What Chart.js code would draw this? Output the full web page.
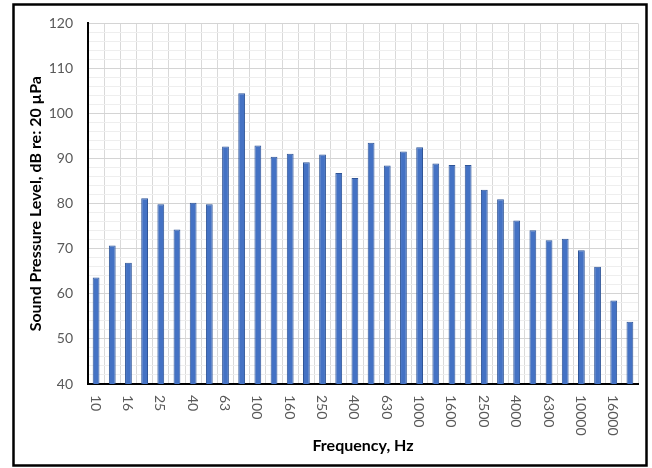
<!DOCTYPE html>
<html>
<head>
<meta charset="utf-8">
<script src="https://cdn.jsdelivr.net/npm/chart.js@4"></script>
<style>
  html, body { margin: 0; padding: 0; background: #fff; }
  #wrap { width: 652px; height: 468px; }
</style>
</head>
<body>
<div id="wrap"><canvas id="splChart" width="652" height="468"></canvas></div>
<script>
// 1/3 octave band centre frequencies, Hz
const frequencies = ['10', '12.5', '16', '20', '25', '31.5', '40', '50', '63', '80',
    '100', '125', '160', '200', '250', '315', '400', '500', '630', '800',
    '1000', '1250', '1600', '2000', '2500', '3150', '4000', '5000', '6300', '8000',
    '10000', '12500', '16000', '20000'];

// sound pressure level per band, dB re 20 µPa
const soundLevels = [63.6, 70.7, 66.9, 81.2, 79.9, 74.3, 80.2, 79.9, 92.7, 104.5,
    92.9, 90.4, 91.1, 89.2, 90.9, 86.8, 85.7, 93.5, 88.5, 91.6,
    92.5, 88.9, 88.6, 88.6, 83.1, 81.0, 76.3, 74.1, 71.9, 72.2,
    69.7, 66.0, 58.5, 53.8];

const yMin = 40;
const yMax = 120;

const labelFont = '14px Lato';
const labelColor = '#595959';

// x labels read top-to-bottom, so they are drawn here (every other band)
const frameAndLabels = {
    id: 'frameAndLabels',
    afterDraw(chart) {
        const ctx = chart.ctx;
        const xScale = chart.scales.x;
        ctx.save();
        ctx.font = labelFont;
        ctx.fillStyle = labelColor;
        ctx.textAlign = 'left';
        ctx.textBaseline = 'middle';
        frequencies.forEach(function (f, i) {
            if (i % 2 !== 0) return;
            const x = xScale.getPixelForValue(i) - 1;
            ctx.save();
            ctx.translate(x, xScale.top + 11);
            ctx.rotate(Math.PI / 2);
            ctx.fillText(f, 0, 0);
            ctx.restore();
        });
        // black frame round the figure
        ctx.strokeStyle = '#000';
        ctx.lineWidth = 2.5;
        ctx.strokeRect(13.5, 4.5, 633, 461);
        ctx.restore();
    }
};

const data = {
    labels: frequencies,
    datasets: [{
        label: 'SPL',
        data: soundLevels,
        backgroundColor: '#4472C4',
        borderColor: '#2F5597',
        borderWidth: 1,
        categoryPercentage: 1.0,
        barPercentage: 0.42
    }]
};

const config = {
    type: 'bar',
    data: data,
    options: {
        responsive: false,
        animation: false,
        layout: {
            padding: { left: 18, right: 14, top: 20, bottom: 6 }
        },
        plugins: {
            legend: { display: false },
            tooltip: { enabled: false }
        },
        scales: {
            x: {
                grid: {
                    color: '#d9d9d9',
                    drawTicks: false
                },
                border: { color: '#000', width: 2 },
                ticks: { display: false, autoSkip: false },
                title: {
                    display: true,
                    text: 'Frequency, Hz',
                    color: '#000',
                    font: { family: 'Lato', size: 16, weight: 'bold' },
                    padding: { top: 0, bottom: 7 }
                },
                afterFit: function (scale) { scale.height = 78; }
            },
            y: {
                min: yMin,
                max: yMax,
                grid: {
                    drawTicks: false,
                    color: function (ctx) {
                        return ctx.tick && ctx.tick.value % 10 === 0 ? '#d4d4d4' : '#eeeeee';
                    }
                },
                border: { color: '#000', width: 2 },
                ticks: {
                    stepSize: 2,
                    autoSkip: false,
                    padding: 15,
                    color: labelColor,
                    font: { family: 'Lato', size: 14 },
                    callback: function (v) { return v % 10 === 0 ? v : ''; }
                },
                title: {
                    display: true,
                    text: 'Sound Pressure Level, dB re: 20 µPa',
                    color: '#000',
                    font: { family: 'Lato', size: 16, weight: 'bold' },
                    padding: { top: 8, bottom: 0 }
                },
                afterFit: function (scale) { scale.width = 70; }
            }
        }
    },
    plugins: [frameAndLabels]
};

const splChart = new Chart(document.getElementById('splChart'), config);
</script>
</body>
</html>
